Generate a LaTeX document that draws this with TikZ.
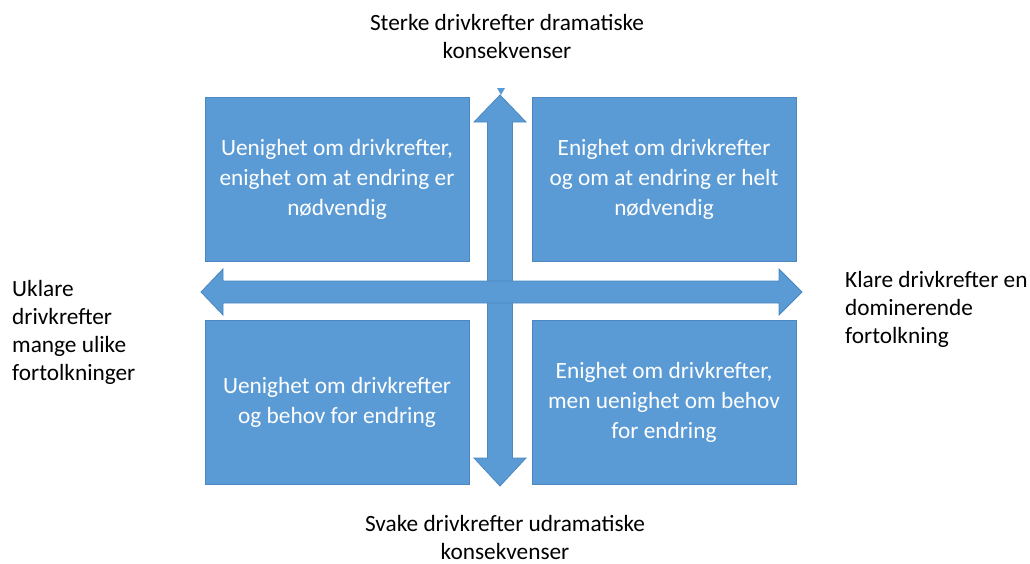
\documentclass[tikz,border=0pt]{standalone}
\usepackage{fontspec}
\setmainfont{Carlito}
\usetikzlibrary{positioning}
\definecolor{quadfill}{HTML}{5B9BD5}
\definecolor{quadedge}{HTML}{4C87BF}

\begin{document}
\begin{tikzpicture}[x=1pt, y=-1pt,
every node/.style={%
    font=\fontsize{23.3}{28}\selectfont, align=center, inner sep=0pt
    },
quad/.style={fill=quadfill, draw=quadedge, line width=0.8pt,
    minimum width=264pt, minimum height=164pt, text=white,
    font=\fontsize{23.3}{30}\selectfont},
axisbar/.style={fill=quadfill, draw=quadedge, line width=0.8pt, line join=miter}
]
\useasboundingbox (0,0) rectangle (1030,563);

\foreach \n/\x/\y/\t in {TL/337/179/{Uenighet om drivkrefter,\\enighet om at endring er\\nødvendig},
                         TR/664/179/{Enighet om drivkrefter\\og om at endring er helt\\nødvendig},
                         BL/337/402.5/{Uenighet om drivkrefter\\og behov for endring},
                         BR/664/402.5/{Enighet om drivkrefter,\\men uenighet om behov\\for endring}}
    \node[quad] (quad\n) at (\x,\y) {\t};

% axes
\draw[axisbar] (500,95) -- (526,122) -- (512.5,122) -- (512.5,458) -- (526,458)
    -- (500,486) -- (474,458) -- (487.5,458) -- (487.5,122) -- (474,122) -- cycle;
\fill[quadfill] (497,88) -- (505,88) -- (501,95) -- cycle;
\draw[axisbar] (201,292) -- (223,269) -- (223,281) -- (779,281) -- (779,269)
    -- (802,292) -- (779,315) -- (779,303) -- (223,303) -- (223,315) -- cycle;

\node (top) at (507,36) {Sterke drivkrefter dramatiske\\konsekvenser};
\node (bottom) at (505,537) {Svake drivkrefter udramatiske\\konsekvenser};
\node[anchor=west, align=left] (left) at (12,332) {Uklare\\drivkrefter\\mange ulike\\fortolkninger};
\node[anchor=west, align=left] (right) at (845,309) {Klare drivkrefter en\\dominerende\\fortolkning};

\end{tikzpicture}
\end{document}
